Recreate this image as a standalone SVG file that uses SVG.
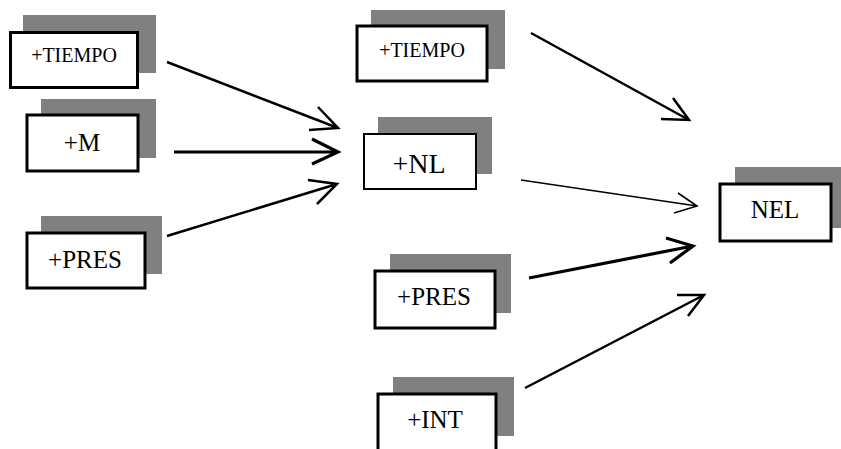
<svg xmlns="http://www.w3.org/2000/svg" width="841" height="449" viewBox="0 0 841 449">
<style>
.sh{fill:#808080;stroke:none}
.bx{fill:#fff;stroke:#000;stroke-width:3}
.bt{fill:#fff;stroke:#000;stroke-width:2}
.t{font-family:"Liberation Serif","Times New Roman",serif;fill:#000;text-anchor:middle}
.c{fill:none;stroke:#000;stroke-linecap:butt;stroke-linejoin:miter}
.w2{stroke-width:2.5}
.w3{stroke-width:3.2}
.w1{stroke-width:1.6}
</style>
<rect width="841" height="449" fill="#fff"/>
<g id="n1"><rect class="sh" x="23" y="15" width="133" height="58"/><rect class="bx" x="10.5" y="32.5" width="127" height="55"/><text class="t" x="74" y="62" font-size="20">+TIEMPO</text></g>
<g id="n2"><rect class="sh" x="41" y="99" width="115" height="59"/><rect class="bx" x="27" y="115" width="111" height="56"/><text class="t" x="82" y="151" font-size="25">+M</text></g>
<g id="n3"><rect class="sh" x="41" y="216" width="121" height="58"/><rect class="bx" x="27" y="233" width="118" height="55"/><text class="t" x="85" y="268" font-size="25">+PRES</text></g>
<g id="n4"><rect class="sh" x="371" y="10" width="134" height="59"/><rect class="bx" x="357" y="26" width="130" height="55"/><text class="t" x="422" y="57" font-size="20">+TIEMPO</text></g>
<g id="n5"><rect class="sh" x="378" y="117" width="114" height="57"/><rect class="bt" x="364" y="134" width="112" height="55"/><text class="t" x="419" y="173" font-size="28">+NL</text></g>
<g id="n6"><rect class="sh" x="390" y="254" width="121" height="59"/><rect class="bx" x="375" y="271" width="120" height="57"/><text class="t" x="434" y="305" font-size="25">+PRES</text></g>
<g id="n7"><rect class="sh" x="393" y="377" width="121" height="59"/><rect class="bx" x="378" y="394" width="118" height="80"/><text class="t" x="435" y="428" font-size="25">+INT</text></g>
<g id="n8"><rect class="sh" x="735" y="167" width="106" height="61"/><rect class="bx" x="720" y="184" width="111" height="57"/><text class="t" x="775" y="218" font-size="25">NEL</text></g>
<g id="connectors">
<path class="c w2" d="M167,62 L338,128 M318,107 L338,128 L309,130"/>
<path class="c w3" d="M174,152 L338,152 M312,139 L338,152 L312,164"/>
<path class="c w2" d="M167,236 L337,184 M308,180 L337,184 L317,204"/>
<path class="c w2" d="M531,33 L689,120 M673,98 L689,120 L661,119"/>
<path class="c w1" d="M521,180 L697,206 M678,193 L697,206 L674,213"/>
<path class="c w3" d="M529,278 L693,246 M666,238 L693,246 L670,263"/>
<path class="c w2" d="M525,388 L704,295 M677,295 L704,295 L688,316"/>
</g>
</svg>
